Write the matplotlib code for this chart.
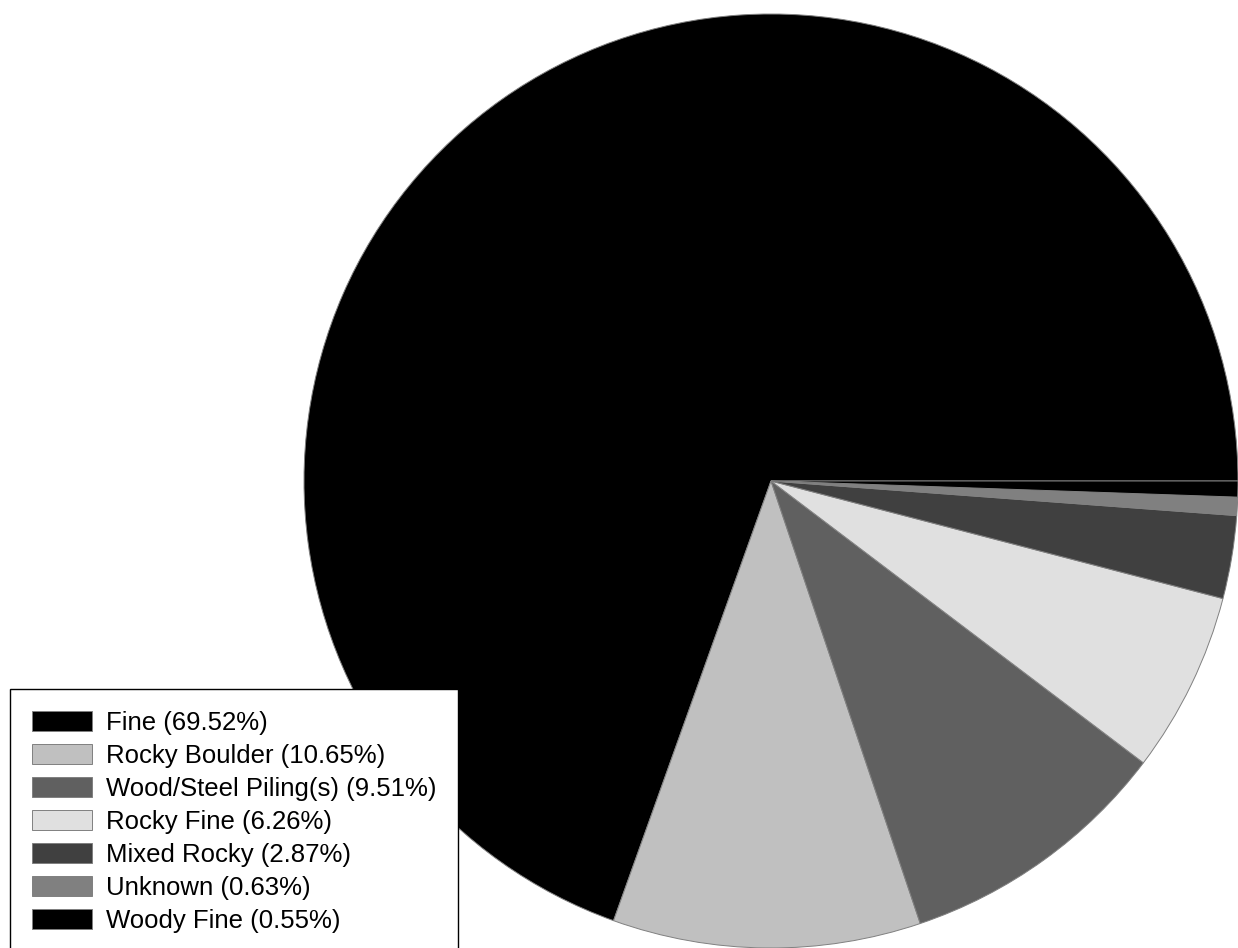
import matplotlib
matplotlib.use('Agg')
import matplotlib.pyplot as plt

# Bottom type shares (percent)
labels = ['Fine', 'Rocky Boulder', 'Wood/Steel Piling(s)', 'Rocky Fine',
          'Mixed Rocky', 'Unknown', 'Woody Fine']
shares = [69.52, 10.65, 9.51, 6.26, 2.87, 0.63, 0.55]
colors = ['#000000', '#c0c0c0', '#606060', '#e0e0e0', '#404040', '#808080', '#000000']

plt.rcParams['font.family'] = ['Liberation Sans', 'DejaVu Sans']

W, H = 1238, 948
fig = plt.figure(figsize=(W / 100, H / 100), dpi=100)
ax = fig.add_axes([0, 0, 1, 1])

# pie centre and radius in pixels
cx, cy, r = 771, 481, 467

wedges, _ = ax.pie(shares, colors=colors, startangle=0, counterclock=True,
                   radius=1, center=(0, 0),
                   wedgeprops=dict(edgecolor='#808080', linewidth=0.7))
ax.set_aspect('auto')
ax.set_xlim(-cx / r, (W - cx) / r)
ax.set_ylim(-(H - cy) / r, cy / r)
ax.axis('off')

leg_labels = [f'{l} ({s:.2f}%)' for l, s in zip(labels, shares)]
leg = ax.legend(wedges, leg_labels, loc='upper left',
                bbox_to_anchor=(10 / W, 1 - 689 / H), bbox_transform=fig.transFigure,
                fontsize=18.5, frameon=True, fancybox=False, framealpha=1,
                edgecolor='black', borderaxespad=0, borderpad=0.85,
                handlelength=2.33, handleheight=0.8, handletextpad=0.54,
                labelspacing=0.35)
leg.get_frame().set_linewidth(1.0)

fig.savefig('out.png', dpi=100)
